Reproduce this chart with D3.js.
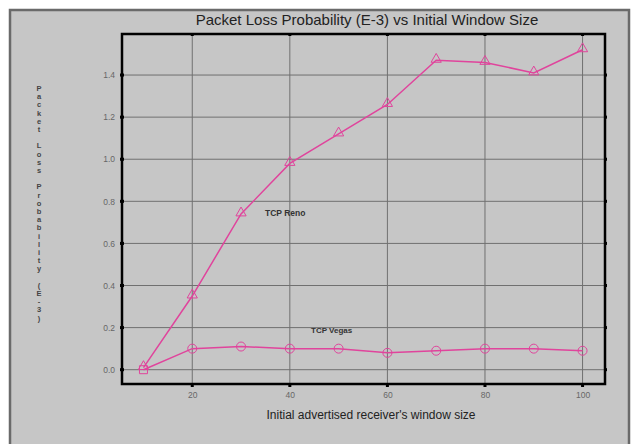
<!DOCTYPE html>
<html>
<head>
<meta charset="utf-8">
<script src="https://cdn.jsdelivr.net/npm/d3@7"></script>
<style>
  body { margin: 0; background: #fff; }
  svg { display: block; font-family: "Liberation Sans", Arial, sans-serif; }
</style>
</head>
<body>
<svg width="635" height="444"></svg>
<script>
// window sizes and loss probabilities (E-3)
const windowSizes = [10, 20, 30, 40, 50, 60, 70, 80, 90, 100]
const renoLoss = [0.01, 0.35, 0.74, 0.98, 1.12, 1.26, 1.47, 1.46, 1.41, 1.52]
const vegasLoss = [0.0, 0.10, 0.11, 0.10, 0.10, 0.08, 0.09, 0.10, 0.10, 0.09]
const xTicks = [20, 40, 60, 80, 100]
const yTicks = [0, 0.2, 0.4, 0.6, 0.8, 1.0, 1.2, 1.4]

const pink = '#e0449c'

let svg = d3.select('svg')

// outer grey panel
svg.append('rect')
  .attr('x', 10).attr('y', 10)
  .attr('width', 619).attr('height', 440)
  .attr('fill', '#c6c6c6')
  .attr('stroke', '#6a6a6a')
  .attr('stroke-width', 2.5)

let plotL = 122, plotR = 605, plotT = 34, plotB = 384

let x = d3.scaleLinear().domain([5.6, 104.6]).range([plotL, plotR])
let y = d3.scaleLinear().domain([-0.068, 1.595]).range([plotB, plotT])

// grid
let grid = svg.append('g').attr('stroke', '#707070').attr('stroke-width', 1)
xTicks.forEach(t => {
  grid.append('line')
    .attr('x1', x(t)).attr('x2', x(t))
    .attr('y1', plotT).attr('y2', plotB)
})
yTicks.forEach(t => {
  grid.append('line')
    .attr('x1', plotL).attr('x2', plotR)
    .attr('y1', y(t)).attr('y2', y(t))
})

// axes with gray labels
let xAxis = d3.axisBottom(x).tickValues(xTicks).tickFormat(d3.format('d')).tickSize(0).tickPadding(8)
let yAxis = d3.axisLeft(y).tickValues(yTicks).tickFormat(d3.format('.1f')).tickSize(0).tickPadding(7)

let gx = svg.append('g').attr('transform', `translate(0,${plotB})`).call(xAxis)
let gy = svg.append('g').attr('transform', `translate(${plotL},0)`).call(yAxis)
;[gx, gy].forEach(g => {
  g.select('.domain').remove()
  g.selectAll('text').attr('fill', '#666').attr('font-size', 8.5)
})

// plot frame
svg.append('rect')
  .attr('x', plotL).attr('y', plotT)
  .attr('width', plotR - plotL).attr('height', plotB - plotT)
  .attr('fill', 'none')
  .attr('stroke', '#000')
  .attr('stroke-width', 2.5)

// small tick dots on the frame
let dots = svg.append('g').attr('fill', '#000')
xTicks.forEach(t => {
  dots.append('rect').attr('x', x(t) - 1.5).attr('y', plotT - 1).attr('width', 3).attr('height', 3)
  dots.append('rect').attr('x', x(t) - 1.5).attr('y', plotB - 1).attr('width', 3).attr('height', 4)
})
yTicks.forEach(t => {
  dots.append('rect').attr('x', plotR - 1).attr('y', y(t) - 1.5).attr('width', 3).attr('height', 3)
  dots.append('rect').attr('x', plotL - 2).attr('y', y(t) - 1.5).attr('width', 4).attr('height', 3)
})

let line = d3.line()
  .x((d, i) => x(windowSizes[i]))
  .y(d => y(d))

svg.append('path')
  .datum(renoLoss)
  .attr('d', line)
  .attr('fill', 'none')
  .attr('stroke', pink)
  .attr('stroke-width', 1.5)

svg.append('path')
  .datum(vegasLoss)
  .attr('d', line)
  .attr('fill', 'none')
  .attr('stroke', pink)
  .attr('stroke-width', 1.5)

// markers
let tri = d3.symbol().type(d3.symbolTriangle).size(45)
svg.append('g').selectAll('path')
  .data(renoLoss)
  .enter().append('path')
  .attr('d', tri)
  .attr('transform', (d, i) => `translate(${x(windowSizes[i])},${y(d) - 1})`)
  .attr('fill', 'none')
  .attr('stroke', pink)
  .attr('stroke-width', 1)

svg.append('g').selectAll('circle')
  .data(vegasLoss.slice(1))
  .enter().append('circle')
  .attr('cx', (d, i) => x(windowSizes[i + 1]))
  .attr('cy', d => y(d))
  .attr('r', 4.5)
  .attr('fill', 'none')
  .attr('stroke', pink)
  .attr('stroke-width', 1)

// first vegas point drawn as a square
svg.append('path')
  .datum(vegasLoss[0])
  .attr('d', d3.symbol().type(d3.symbolSquare).size(64))
  .attr('transform', d => `translate(${x(windowSizes[0])},${y(d)})`)
  .attr('fill', 'none')
  .attr('stroke', pink)
  .attr('stroke-width', 1)

// series labels
svg.append('text')
  .attr('x', 265).attr('y', y(0.745) + 3)
  .attr('font-size', 8.5).attr('font-weight', 'bold').attr('fill', '#333')
  .text('TCP Reno')

svg.append('text')
  .attr('x', 311).attr('y', y(0.2) + 5)
  .attr('font-size', 8).attr('font-weight', 'bold').attr('fill', '#333')
  .text('TCP Vegas')

// titles
svg.append('text')
  .attr('x', 367).attr('y', 25)
  .attr('text-anchor', 'middle')
  .attr('font-size', 15).attr('fill', '#222')
  .text('Packet Loss Probability (E-3) vs Initial Window Size')

svg.append('text')
  .attr('x', 371).attr('y', 419)
  .attr('text-anchor', 'middle')
  .attr('font-size', 12).attr('fill', '#222')
  .text("Initial advertised receiver's window size")

// vertical stacked y label
let yLabel = 'Packet Loss Probability (E-3)'
svg.append('text')
  .attr('font-size', 7.5).attr('font-weight', 'bold').attr('fill', '#444')
  .attr('text-anchor', 'middle')
  .selectAll('tspan')
  .data(yLabel.split(''))
  .enter().append('tspan')
  .attr('x', 39)
  .attr('y', (d, i) => 91 + i * 8.2)
  .text(d => d === ' ' ? '\u00a0' : d)
</script>
</body>
</html>
